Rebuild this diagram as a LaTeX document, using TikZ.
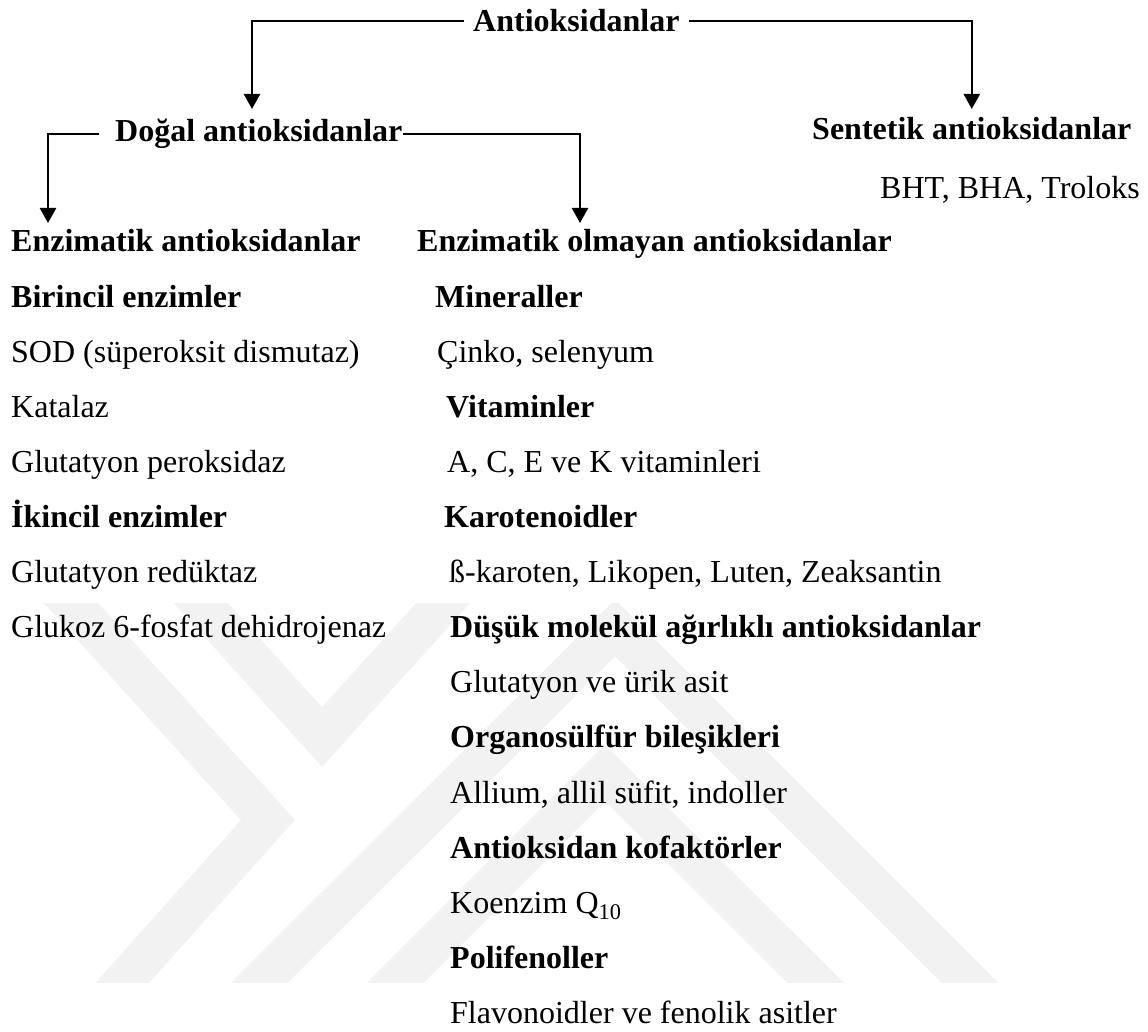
\documentclass[tikz,border=0pt]{standalone}
\usepackage{fontspec}
\setmainfont{Liberation Serif}
\usetikzlibrary{arrows.meta}
\begin{document}
\begin{tikzpicture}[x=1pt,y=-1pt,
  lbl/.style={anchor=base west, inner sep=0pt, font=\fontsize{32}{38}\selectfont},
  hd/.style={anchor=base west, inner sep=0pt, font=\fontsize{32}{38}\selectfont\bfseries},
  conn/.style={line width=2.4pt},
  arr/.style={conn, -{Triangle[width=16pt,length=15pt]}},
  wm/.style={draw=black!5, line width=40pt, miter limit=10}]
\useasboundingbox (0,0) rectangle (1148,1032);
% faint watermark
\begin{scope}
  \clip (0,603) rectangle (1148,982);
  \draw[wm] (41,570) -- (268,820) -- (98,1010);
  \draw[wm] (171,570) -- (322,737) -- (473,570);
  \draw[wm] (232,1010) -- (615,628) -- (997,1010);
  \draw[wm] (368,1010) -- (605,773) -- (843,1010);
\end{scope}
% top level
\node[hd] (root) at (473,32) {Antioksidanlar};
\node[hd] (dogal) at (115,142) {Doğal antioksidanlar};
\node[hd] (sent) at (812,140) {Sentetik antioksidanlar};
\node[lbl] (bht) at (880,199) {BHT, BHA, Troloks};
% left column
\node[hd]  (enz) at (11,252) {Enzimatik antioksidanlar};
\node[hd]  (bir) at (11,307.1) {Birincil enzimler};
\node[lbl] (sod) at (11,362.2) {SOD (süperoksit dismutaz)};
\node[lbl] (kat) at (11,417.3) {Katalaz};
\node[lbl] (gpx) at (11,472.4) {Glutatyon peroksidaz};
\node[hd]  (iki) at (11,527.5) {İkincil enzimler};
\node[lbl] (gre) at (11,582.6) {Glutatyon redüktaz};
\node[lbl] (g6p) at (11,637.7) {Glukoz 6-fosfat dehidrojenaz};
% right column
\node[hd]  (nenz) at (417,252) {Enzimatik olmayan antioksidanlar};
\node[hd]  (min) at (435,307.1) {Mineraller};
\node[lbl] (cin) at (437,362.2) {Çinko, selenyum};
\node[hd]  (vit) at (446,417.3) {Vitaminler};
\node[lbl] (ace) at (447,472.4) {A, C, E ve K vitaminleri};
\node[hd]  (kar) at (444,527.5) {Karotenoidler};
\node[lbl] (bka) at (449,582.6) {ß-karoten, Likopen, Luten, Zeaksantin};
\node[hd]  (dus) at (450,637.7) {Düşük molekül ağırlıklı antioksidanlar};
\node[lbl] (glu) at (450,692.8) {Glutatyon ve ürik asit};
\node[hd]  (org) at (450,747.9) {Organosülfür bileşikleri};
\node[lbl] (all) at (450,803) {Allium, allil süfit, indoller};
\node[hd]  (kof) at (450,858.1) {Antioksidan kofaktörler};
\node[lbl] (koe) at (450,913.2) {Koenzim Q\textsubscript{10}};
\node[hd]  (pol) at (450,968.3) {Polifenoller};
\node[lbl] (fla) at (450,1023.4) {Flavonoidler ve fenolik asitler};
% connector end points
\coordinate (tDogal) at (252,109);
\coordinate (tSent) at (sent.north |- 0,109);
\coordinate (tEnz) at (48,223);
\coordinate (tNenz) at (580,223);
% connectors
\draw[arr] ([xshift=-9pt]root.west) -| (tDogal);
\draw[arr] ([xshift=9pt]root.east) -| (tSent);
\draw[arr] ([xshift=-16pt]dogal.west) -| (tEnz);
\draw[arr] (dogal.east) -| (tNenz);
\end{tikzpicture}
\end{document}
